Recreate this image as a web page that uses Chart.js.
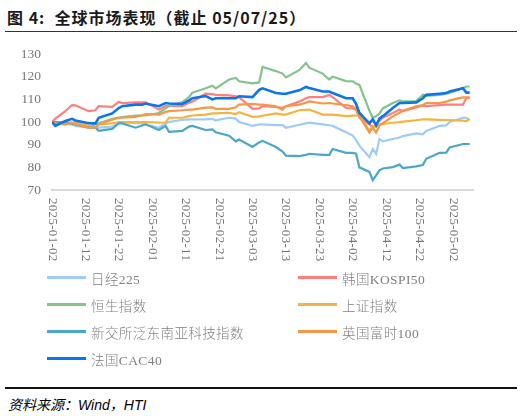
<!DOCTYPE html>
<html>
<head>
<meta charset="utf-8">
<script src="https://cdn.jsdelivr.net/npm/chart.js@4.4.1/dist/chart.umd.min.js"></script>
<style>
  body { margin: 0; background: #fff; width: 526px; height: 416px; overflow: hidden; position: relative; }
  .title { position: absolute; left: 7px; top: 5px; font: bold 16px "Noto Sans CJK SC", sans-serif; color: #1a1a1a; white-space: pre; letter-spacing: 1px; }
  .rule { position: absolute; left: 5px; width: 512px; background: #333; }
  #wrap { position: absolute; left: 0; top: 35px; width: 526px; height: 240px; }
  #legend { position: absolute; left: 47px; top: 264px; display: grid; grid-template-columns: 251px 200px; grid-auto-rows: 27px; }
  .item { display: flex; align-items: center; font: 300 13.5px "Liberation Serif", "Noto Sans CJK SC", serif; color: #808080; letter-spacing: 0.4px; }
  .swatch { width: 39px; height: 2.5px; margin-right: 5px; }
  .source { position: absolute; left: 8px; top: 394px; font: italic 14px "Liberation Sans", "Noto Sans CJK SC", sans-serif; color: #000; }
</style>
</head>
<body>
<div class="title">图 4:  全球市场表现（截止 05/07/25）</div>
<div class="rule" style="top:31px;height:1px;"></div>
<div id="wrap"><canvas id="chart"></canvas></div>
<div id="legend"></div>
<div class="rule" style="top:387px;height:1.5px;background:#111;"></div>
<div class="source">资料来源：Wind，HTI</div>
<script>
// sampled trading days, values rebased to 100 on 2025-01-02
const dates = [
  '2025-01-02','2025-01-03','2025-01-06','2025-01-08','2025-01-09','2025-01-13','2025-01-15','2025-01-16',
  '2025-01-20','2025-01-22','2025-01-23','2025-01-27','2025-01-29','2025-01-30','2025-02-03','2025-02-05',
  '2025-02-06','2025-02-10','2025-02-12','2025-02-13','2025-02-17','2025-02-19','2025-02-20','2025-02-24',
  '2025-02-26','2025-02-27','2025-03-03','2025-03-05','2025-03-06','2025-03-10','2025-03-12','2025-03-13',
  '2025-03-17','2025-03-19','2025-03-20','2025-03-24','2025-03-26','2025-03-27','2025-03-31','2025-04-02',
  '2025-04-03','2025-04-04','2025-04-07','2025-04-08','2025-04-09','2025-04-10','2025-04-11','2025-04-14',
  '2025-04-16','2025-04-17','2025-04-21','2025-04-23','2025-04-24','2025-04-28','2025-04-30','2025-05-01',
  '2025-05-05','2025-05-06','2025-05-07'
];

const nikkei225 = [
  100, 99.8, 99.4, 98.8, 98.3, 97.5, 97.5, 97.5,
  98, 99.4, 100, 99.5, 99.4, 99, 97.5, 99.4,
  100, 101, 101.2, 101.2, 101.2, 101.4, 100.8, 101.9,
  101.5, 100, 98.3, 99, 99, 98.6, 98.6, 97.5,
  98.8, 99.4, 99.7, 99, 98.6, 98.3, 95.5, 94,
  92, 89.6, 84.5, 88.1, 85.9, 92.5, 91.5, 92.5,
  93.2, 93.8, 95, 94.6, 96.1, 98.3, 98.5, 100,
  101.9, 101.9, 100.8
];
const kospi50 = [
  100, 101.5, 104.8, 107.5, 107.4, 104.8, 105.2, 107,
  106.7, 109, 108.4, 108.7, 108.7, 108.7, 105.5, 107,
  107, 107, 108.5, 109, 112.5, 112.3, 112, 111.8,
  111.3, 111, 105.8, 106, 107, 106.7, 106.2, 107,
  109, 110.5, 111, 111, 112, 111, 106.2, 106,
  105.5, 102, 99, 97.5, 99, 100.5, 101.9, 104,
  105.5, 104.8, 106.5, 107.2, 107, 107.5, 107.7, 107.7,
  107.7, 110.6, 110.6
];
const hangSeng = [
  100, 100, 100, 99.7, 99, 98, 99, 99.4,
  101.4, 102, 102.2, 102.8, 102.9, 102.9, 104, 106,
  107, 108.8, 111, 113, 114.9, 116, 114.9, 118.8,
  119.5, 118, 117.1, 117.5, 124.3, 122.5, 121.4, 119.7,
  122.9, 126.1, 124, 121.4, 118.8, 120, 118.1, 118,
  117, 116.4, 105, 101.9, 102.6, 103.8, 106, 108.4,
  109.6, 109.1, 109.2, 112, 111.5, 112, 112.5, 112.8,
  115, 115.7, 115.7
];
const shanghai = [
  100, 99.5, 99, 99.5, 100, 98.3, 97.5, 99,
  99.4, 100, 100, 100, 100, 100, 99.8, 99.7,
  101.9, 101.9, 102.6, 102.9, 103.3, 103.8, 103.8, 104.1,
  103.5, 104.3, 102.3, 102.5, 102.8, 103.8, 103.3, 103.3,
  105.2, 105.4, 105.5, 103.3, 103.3, 103.3, 102.6, 102.8,
  102.9, 102.9, 96.1, 98.3, 97.8, 99, 99.2, 99.7,
  100, 100.2, 100.8, 101.2, 101.2, 101, 100.9, 100.9,
  100.6, 100.4, 101.4
];
const sgxSeaTech = [
  100, 100, 99.7, 99.3, 99, 97.5, 97.5, 96.1,
  97, 99.4, 99.4, 97.5, 98.5, 99, 96.5, 98.3,
  95.7, 96.1, 98, 98.3, 96.5, 96.8, 95.5, 94,
  91.5, 92.3, 89, 91, 91.7, 89, 87, 85.2,
  85, 85.5, 86, 85.5, 85.5, 88.1, 86.4, 86.4,
  86, 80, 78, 74.3, 76.5, 78.7, 79.5, 80.1,
  81.2, 79.7, 80.4, 81, 83.8, 86.4, 86.5, 88.8,
  90.3, 90.3, 90.3
];
const ftse100 = [
  100, 99.3, 99, 99.7, 99, 97.5, 97.5, 99,
  101, 101.9, 101.9, 102.3, 103, 103.5, 103.3, 104.5,
  104.8, 105.2, 105.5, 105.5, 106.4, 106.5, 105.8, 105.8,
  106.5, 107.7, 108, 107.7, 107.7, 107, 105.5, 107,
  107.7, 108.5, 109.1, 108.2, 108.4, 108.2, 107.5, 107,
  105.8, 102.5, 95.4, 97.5, 95.4, 98.5, 99.5, 102.5,
  104.1, 105, 107, 107.5, 108.4, 108.4, 109, 109.6,
  110.9, 110.9, 110.9
];
const cac40 = [
  100, 98.3, 100.5, 101.4, 100.7, 99.5, 99.4, 101.9,
  103.8, 106.2, 107, 107.7, 107.7, 108.2, 107, 108.4,
  108.2, 108, 109.5, 110.5, 111.5, 110, 110.5, 110.5,
  110.5, 111.4, 111, 114.2, 114.9, 112.8, 112.5, 112.5,
  114, 115.5, 115, 113.5, 113.5, 112.8, 110.5, 110.5,
  108, 104, 99.4, 101.2, 98.6, 101.5, 102.6, 106.2,
  108.4, 108.4, 108.7, 110.5, 112, 112.5, 112.8, 113.5,
  114.9, 113, 113
];

const seriesNames = ['日经225', '韩国KOSPI50', '恒生指数', '上证指数', '新交所泛东南亚科技指数', '英国富时100', '法国CAC40'];
const seriesValues = [nikkei225, kospi50, hangSeng, shanghai, sgxSeaTech, ftse100, cac40];
const seriesColors = ['#9fcbf7', '#ff7f7f', '#84c48c', '#f5b342', '#4aa8c4', '#f79646', '#0a75ec'];

const xTickLabels = ['2025-01-02','2025-01-12','2025-01-22','2025-02-01','2025-02-11','2025-02-21',
  '2025-03-03','2025-03-13','2025-03-23','2025-04-02','2025-04-12','2025-04-22','2025-05-02'];

const DAY = 86400000;
const dayOffset = d => (Date.parse(d) - Date.parse(dates[0])) / DAY;
const xs = dates.map(dayOffset);

const datasets = seriesNames.map((name, i) => ({
  label: name,
  data: seriesValues[i].map((v, j) => ({ x: xs[j], y: v })),
  borderColor: seriesColors[i],
  backgroundColor: seriesColors[i],
  borderWidth: i === 6 ? 2.6 : 2.2,
  pointRadius: 0,
  tension: 0,
  order: seriesNames.length - i,
}));

// rotated date labels reading top-down, like the original
const xLabels = {
  id: 'xLabels',
  afterDraw(chart) {
    const ctx = chart.ctx;
    const sx = chart.scales.x;
    const top = chart.chartArea.bottom + 8;
    ctx.save();
    ctx.font = '13px "Liberation Serif", serif';
    ctx.letterSpacing = '0.3px';
    ctx.fillStyle = '#777';
    ctx.textAlign = 'left';
    ctx.textBaseline = 'middle';
    xTickLabels.forEach(lbl => {
      const px = sx.getPixelForValue(dayOffset(lbl));
      ctx.save();
      ctx.translate(px, top);
      ctx.rotate(Math.PI / 2);
      ctx.fillText(lbl, 0, 0);
      ctx.restore();
    });
    ctx.restore();
  }
};

const chart = new Chart(document.getElementById('chart'), {
  type: 'line',
  data: { datasets },
  options: {
    responsive: true,
    maintainAspectRatio: false,
    animation: false,
    layout: { padding: { left: 0, right: 53, top: 17, bottom: 0 } },
    plugins: { legend: { display: false }, tooltip: { enabled: false } },
    scales: {
      x: {
        type: 'linear',
        min: 0,
        max: 126,
        grid: { display: false },
        border: { display: true, color: '#d9d9d9', width: 2 },
        ticks: { display: false },
        afterFit: s => { s.height = 85; },
      },
      y: {
        min: 70,
        max: 130,
        grid: { display: false, drawTicks: false },
        border: { display: false },
        ticks: {
          stepSize: 10,
          padding: 11,
          color: '#777',
          font: { family: '"Liberation Serif", serif', size: 13.5 },
        },
        afterFit: s => { s.width = 52; },
      },
    },
  },
  plugins: [xLabels],
});

const legend = document.getElementById('legend');
chart.data.datasets.forEach(ds => {
  const item = document.createElement('div');
  item.className = 'item';
  item.innerHTML = '<span class="swatch" style="background:' + ds.borderColor + '"></span>' + ds.label;
  legend.appendChild(item);
});
</script>
</body>
</html>
